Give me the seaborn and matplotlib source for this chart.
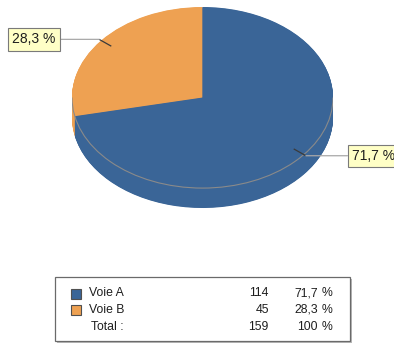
import numpy as np
import matplotlib
matplotlib.use("Agg")
import matplotlib.pyplot as plt
from matplotlib import patches
import seaborn as sns

# Data
categories = ["Voie A", "Voie B"]
counts = [114, 45]
total_label = "Total :"
colors_hex = ["#3A6597", "#EEA152"]

sns.set_theme(style="white")
plt.rcParams["font.family"] = ["Liberation Sans", "DejaVu Sans"]
palette = sns.color_palette(colors_hex)


def fmt_pct(p):
    return f"{p:.1f}".replace(".", ",")


W, H = 394, 345
fig = plt.figure(figsize=(W / 100, H / 100), dpi=100)
fig.patch.set_facecolor("white")

# Pixel-space overlay used for the summary table
ax0 = fig.add_axes([0, 0, 1, 1])
ax0.set_xlim(0, W)
ax0.set_ylim(H, 0)
ax0.axis("off")
ax0.patch.set_alpha(0)

# Axes holding the tilted pie (unequal scaling turns the disc into an ellipse)
px_left, px_right, px_top, px_bottom = 72, 333, 7, 208
depth = 0.22
axp = fig.add_axes([px_left / W, 1 - px_bottom / H,
                    (px_right - px_left) / W, (px_bottom - px_top) / H])

pie_vals = counts[::-1]
pie_cols = palette[::-1]
pie_names = categories[::-1]

# Extruded side: stacked copies of the pie shifted downwards
for t in np.linspace(depth, 0, 45)[:-1]:
    axp.pie(pie_vals, colors=pie_cols, startangle=90, counterclock=True,
            center=(0, -t), radius=1, wedgeprops=dict(linewidth=0))

# Top face
wedges, _ = axp.pie(pie_vals, colors=pie_cols, startangle=90, counterclock=True,
                    center=(0, 0), radius=1, wedgeprops=dict(linewidth=0))
axp.set_aspect("auto")
axp.set_xlim(-1, 1)
axp.set_ylim(-1 - depth, 1)
axp.axis("off")

# Rim of the top face on the front half
axp.add_patch(patches.Arc((0, 0), 2, 2, theta1=180, theta2=360,
                          color="#8a8a8a", lw=0.8))

# Percentage callouts
label_x = {"Voie A": 352, "Voie B": 12}
total = sum(counts)
for w, name, cnt in zip(wedges, pie_names, pie_vals):
    th = np.deg2rad((w.theta1 + w.theta2) / 2)
    c, s = np.cos(th), np.sin(th)
    axp.plot([0.9 * c, 1.02 * c], [0.9 * s, 1.02 * s], color="#3a3a3a",
             lw=0.9, solid_capstyle="butt", clip_on=False)
    axp.annotate(f"{fmt_pct(cnt / total * 100)} %",
                 xy=(1.02 * c, 1.02 * s),
                 xytext=(label_x[name], 1.02 * s),
                 textcoords=(ax0.transData, axp.transData),
                 ha="left", va="center", fontsize=10, color="#1e1e1e",
                 bbox=dict(boxstyle="square,pad=0.3", fc="#FFFFC6",
                           ec="#7a7a7a", lw=0.8),
                 arrowprops=dict(arrowstyle="-", color="#a8a8a8", lw=0.9,
                                 shrinkA=0, shrinkB=0),
                 annotation_clip=False)

# Summary table
ax0.add_patch(patches.Rectangle((57, 279), 295, 64, fc="#b8b8b8", ec="none"))
ax0.add_patch(patches.Rectangle((55, 277), 295, 64, fc="white",
                                ec="#6a6a6a", lw=0.9))
rows_y = [293.5, 310, 326.5]
tkw = dict(fontsize=8.8, color="#1e1e1e", va="center")
for i, (name, cnt) in enumerate(zip(categories, counts)):
    y = rows_y[i]
    ax0.add_patch(patches.Rectangle((71, y - 5), 10, 10, fc=palette[i],
                                    ec="#505050", lw=0.8))
    ax0.text(89, y, name, ha="left", **tkw)
    ax0.text(269, y, str(cnt), ha="right", **tkw)
    ax0.text(318, y, fmt_pct(cnt / total * 100), ha="right", **tkw)
    ax0.text(322, y, "%", ha="left", **tkw)
y = rows_y[2]
ax0.text(91, y, total_label, ha="left", **tkw)
ax0.text(269, y, str(total), ha="right", **tkw)
ax0.text(318, y, "100", ha="right", **tkw)
ax0.text(322, y, "%", ha="left", **tkw)

fig.savefig("out.png", dpi=100, facecolor="white")
